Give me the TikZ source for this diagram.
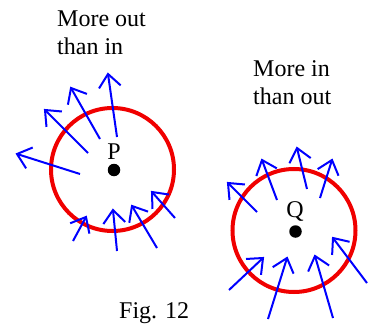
\documentclass[tikz,border=0pt]{standalone}
\usepackage{fontspec}
\setmainfont{Liberation Serif}
\usetikzlibrary{calc}
\begin{document}
\begin{tikzpicture}[x=1pt,y=-1pt,
  ring/.style={draw={rgb,255:red,240;green,0;blue,0},line width=4pt,circle,minimum size=123pt,inner sep=0pt},
  vec/.style={draw={rgb,255:red,0;green,0;blue,255},line width=2pt,line join=miter},
  dot/.style={fill=black,circle,minimum size=12.5pt,inner sep=0pt},
  lab/.style={font=\fontsize{24}{28}\selectfont,inner sep=0pt}]
\useasboundingbox (0,0) rectangle (376,324);
% circles
\node[ring] (cP) at (112.5,169.5) {};
\node[ring] (cQ) at (294,230.5) {};
% centre dots and labels
\node[dot] (P) at (114,170) {};
\node[lab,anchor=base] (Plab) at (114,160) {P};
\node[dot] (Q) at (295.5,231.5) {};
\node[lab,anchor=base] (Qlab) at (295,218) {Q};
% texts
\node[lab,anchor=base west] (t1) at (57,27) {More out};
\node[lab,anchor=base west] (t2) at (57,55) {than in};
\node[lab,anchor=base west] (t3) at (253,77) {More in};
\node[lab,anchor=base west] (t4) at (253,105) {than out};
\node[lab,anchor=base west] (fig) at (119,318) {Fig. 12};
% arrows (tail -> tip)
\foreach \ax/\ay/\bx/\by in {
  80/174/17/154, 88/153/45/110, 100/139/71/88, 117/137/108/74,
  73/241/86/217, 117/251/113/210, 157/248/132/206, 175/218/152/192,
  257/212/228/183, 277/200/262/160, 307/189/297/148, 320/198/332/160,
  229/290/263/258, 268/319/287/258, 333/318/315/256, 367/283/333/238}
{
  \coordinate (tl) at (\ax,\ay);
  \coordinate (tp) at (\bx,\by);
  \draw[vec] (tl) -- (tp);
  \draw[vec] ($(tp)!17pt!40:(tl)$) -- (tp) -- ($(tp)!17pt!-40:(tl)$);
}
\end{tikzpicture}
\end{document}
